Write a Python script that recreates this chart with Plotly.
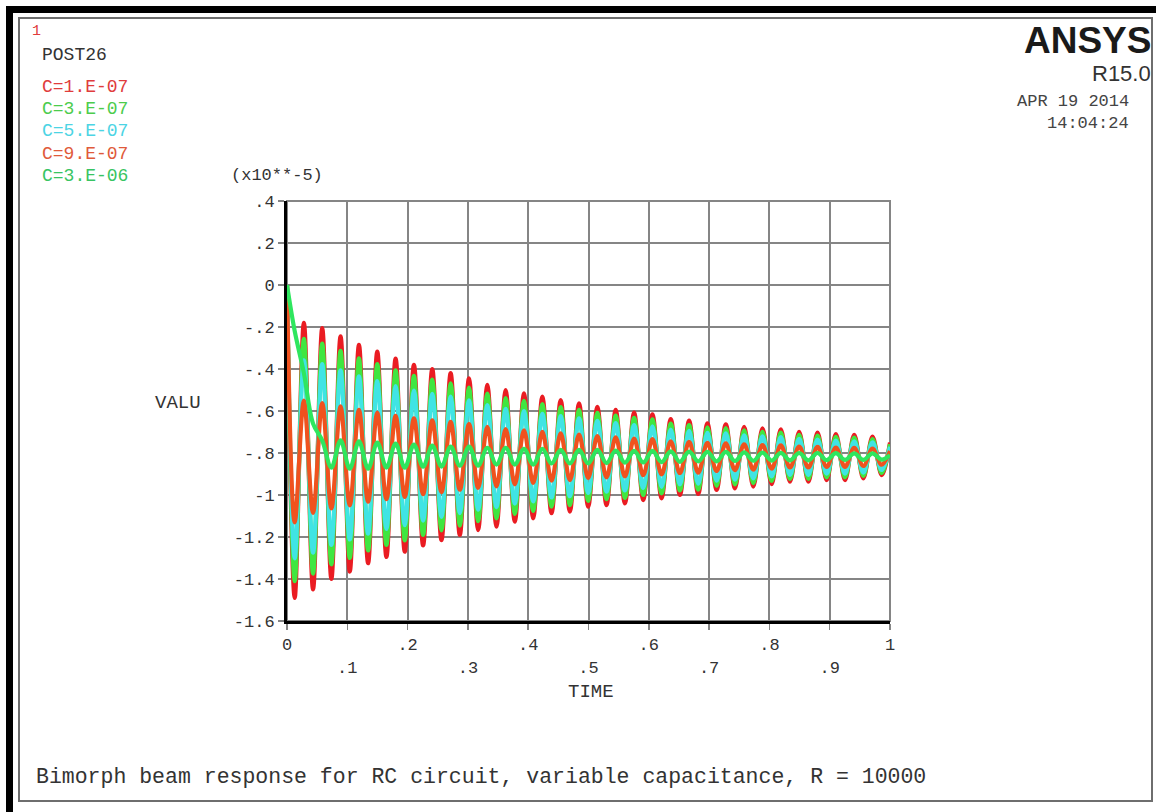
import plotly.graph_objects as go

# ---------------- data (units x10**-5) ----------------
series_names = ["C=1.E-07", "C=3.E-07", "C=5.E-07", "C=9.E-07", "C=3.E-06"]

trough_times = [0.0128, 0.0432, 0.0736, 0.1041, 0.1345, 0.1649, 0.1953, 0.2257, 0.2562, 0.2866,
                0.3170, 0.3474, 0.3778, 0.4083, 0.4387, 0.4691, 0.4995, 0.5299, 0.5604, 0.5908,
                0.6212, 0.6516, 0.6820, 0.7125, 0.7429, 0.7733, 0.8037, 0.8341, 0.8646, 0.8950,
                0.9254, 0.9558, 0.9862]
peak_times = [0.0280, 0.0584, 0.0888, 0.1193, 0.1497, 0.1801, 0.2105, 0.2409, 0.2714, 0.3018,
              0.3322, 0.3626, 0.3930, 0.4235, 0.4539, 0.4843, 0.5147, 0.5451, 0.5756, 0.6060,
              0.6364, 0.6668, 0.6972, 0.7277, 0.7581, 0.7885, 0.8189, 0.8493, 0.8798, 0.9102,
              0.9406, 0.9710]
start_time = 0.0
end_time = 1.0

c1e7_troughs = [-1.49, -1.45, -1.40, -1.365, -1.325, -1.295, -1.27, -1.24, -1.215, -1.19, -1.167,
                -1.151, -1.127, -1.111, -1.087, -1.079, -1.056, -1.048, -1.04, -1.024, -1.016,
                -1.0, -0.995, -0.976, -0.968, -0.96, -0.948, -0.937, -0.937, -0.929, -0.929,
                -0.921, -0.905]
c1e7_peaks = [-0.18, -0.205, -0.245, -0.285, -0.317, -0.35, -0.38, -0.40, -0.42, -0.444, -0.476,
              -0.50, -0.516, -0.532, -0.548, -0.563, -0.58, -0.595, -0.608, -0.616, -0.638,
              -0.646, -0.659, -0.663, -0.675, -0.683, -0.687, -0.699, -0.703, -0.71, -0.714, -0.722]
c1e7_start, c1e7_end = 0.0, -0.75

c3e7_troughs = [-1.41, -1.374, -1.33, -1.30, -1.264, -1.238, -1.216, -1.19, -1.168, -1.146, -1.125,
                -1.111, -1.09, -1.076, -1.055, -1.048, -1.028, -1.02, -1.014, -1.0, -0.992,
                -0.978, -0.974, -0.957, -0.95, -0.943, -0.933, -0.923, -0.923, -0.916, -0.916,
                -0.909, -0.895]
c3e7_peaks = [-0.257, -0.279, -0.314, -0.349, -0.377, -0.406, -0.433, -0.45, -0.468, -0.489, -0.517,
              -0.538, -0.552, -0.567, -0.581, -0.594, -0.609, -0.622, -0.633, -0.64, -0.66,
              -0.667, -0.678, -0.682, -0.692, -0.699, -0.703, -0.714, -0.717, -0.723, -0.727, -0.734]
c3e7_start, c3e7_end = 0.0, -0.758

c5e7_troughs = [-1.302, -1.274, -1.238, -1.212, -1.184, -1.162, -1.144, -1.122, -1.104, -1.086,
                -1.07, -1.058, -1.041, -1.03, -1.012, -1.006, -0.99, -0.984, -0.978, -0.967,
                -0.961, -0.95, -0.946, -0.932, -0.927, -0.921, -0.912, -0.904, -0.904, -0.898,
                -0.898, -0.893, -0.881]
c5e7_peaks = [-0.359, -0.377, -0.406, -0.435, -0.458, -0.482, -0.503, -0.518, -0.532, -0.549,
              -0.572, -0.59, -0.601, -0.613, -0.624, -0.635, -0.647, -0.658, -0.667, -0.673,
              -0.689, -0.695, -0.704, -0.707, -0.716, -0.721, -0.724, -0.733, -0.736, -0.741,
              -0.744, -0.749]
c5e7_start, c5e7_end = 0.0, -0.77

c9e7_troughs = [-1.13, -1.085, -1.064, -1.049, -1.032, -1.02, -1.009, -0.996, -0.986, -0.975,
                -0.966, -0.959, -0.949, -0.942, -0.932, -0.929, -0.919, -0.916, -0.912, -0.906,
                -0.902, -0.896, -0.894, -0.886, -0.882, -0.879, -0.874, -0.869, -0.869, -0.866,
                -0.866, -0.862, -0.856]
c9e7_peaks = [-0.551, -0.562, -0.578, -0.595, -0.609, -0.623, -0.635, -0.644, -0.652, -0.662,
              -0.676, -0.686, -0.692, -0.699, -0.706, -0.712, -0.719, -0.725, -0.731, -0.734,
              -0.744, -0.747, -0.752, -0.754, -0.759, -0.762, -0.764, -0.769, -0.771, -0.774,
              -0.775, -0.779]
c9e7_start, c9e7_end = 0.0, -0.79

c3e6_troughs = [-0.22, -0.66, -0.87, -0.875, -0.875, -0.87, -0.87, -0.865, -0.865, -0.86, -0.86,
                -0.855, -0.855, -0.855, -0.85, -0.85, -0.85, -0.848, -0.846, -0.845, -0.843,
                -0.842, -0.84, -0.84, -0.838, -0.837, -0.836, -0.835, -0.835, -0.834, -0.833,
                -0.833, -0.832]
c3e6_peaks = [-0.42, -0.74, -0.74, -0.745, -0.75, -0.755, -0.76, -0.765, -0.77, -0.77, -0.775,
              -0.775, -0.78, -0.78, -0.785, -0.785, -0.785, -0.788, -0.79, -0.79, -0.792, -0.793,
              -0.795, -0.795, -0.797, -0.798, -0.799, -0.8, -0.8, -0.801, -0.802, -0.802]
c3e6_start, c3e6_end = 0.0, -0.81

y_tickvals = [-1.6, -1.4, -1.2, -1.0, -0.8, -0.6, -0.4, -0.2, 0.0, 0.2, 0.4]
y_ticktext = ["-1.6", "-1.4", "-1.2", "-1", "-.8", "-.6", "-.4", "-.2", "0", ".2", ".4"]
x_tickvals = [0, 0.1, 0.2, 0.3, 0.4, 0.5, 0.6, 0.7, 0.8, 0.9, 1.0]
x_ticktext = ["0", "<br>.1", ".2", "<br>.3", ".4", "<br>.5", ".6", "<br>.7", ".8", "<br>.9", "1"]

# ---------------- styling ----------------
line_colors = ["#ea1c22", "#40e640", "#40e4e4", "#f0521e", "#2ee65e"]
label_colors = ["#e03c3c", "#4ccc4c", "#4cd4e4", "#e05a3a", "#38c462"]
MONO = "Liberation Mono, DejaVu Sans Mono, monospace"
SANS = "Liberation Sans, Arial, sans-serif"

W, H = 1156, 812
L, R, T, B = 287, 890, 201, 621   # plot area in pixels


def pxx(x):
    return (x - L) / (R - L)


def pxy(y):
    return (B - y) / (B - T)


def build(start, troughs, peaks, end):
    out = [start]
    for i, tv in enumerate(troughs):
        out.append(tv)
        if i < len(peaks):
            out.append(peaks[i])
    out.append(end)
    return out


times = build(start_time, trough_times, peak_times, end_time)
all_series = [
    build(c1e7_start, c1e7_troughs, c1e7_peaks, c1e7_end),
    build(c3e7_start, c3e7_troughs, c3e7_peaks, c3e7_end),
    build(c5e7_start, c5e7_troughs, c5e7_peaks, c5e7_end),
    build(c9e7_start, c9e7_troughs, c9e7_peaks, c9e7_end),
    build(c3e6_start, c3e6_troughs, c3e6_peaks, c3e6_end),
]

fig = go.Figure()
for name, ys, col in zip(series_names, all_series, line_colors):
    fig.add_trace(go.Scatter(x=times, y=ys, mode="lines", name=name,
                             line=dict(color=col, width=4.2, shape="spline", smoothing=1.0),
                             hoverinfo="skip"))

axis_common = dict(showgrid=True, gridcolor="#858585", gridwidth=2, zeroline=False,
                   showline=True, linecolor="black", linewidth=3,
                   ticks="outside", ticklen=6, tickwidth=1.5, tickcolor="#858585",
                   tickfont=dict(family=MONO, size=17, color="#333333"))

fig.update_layout(
    width=W, height=H, autosize=False,
    margin=dict(l=L, r=W - R, t=T, b=H - B, pad=0),
    paper_bgcolor="white", plot_bgcolor="white",
    showlegend=False,
    xaxis=dict(range=[0, 1], tickmode="array", tickvals=x_tickvals, ticktext=x_ticktext,
               **axis_common),
    yaxis=dict(range=[-1.6, 0.4], tickmode="array", tickvals=y_tickvals, ticktext=y_ticktext,
               **axis_common),
)

shapes = []
# plot-area top/right border (gray)
shapes.append(dict(type="rect", xref="paper", yref="paper", x0=0, x1=1, y0=0, y1=1,
                   line=dict(color="#858585", width=2), layer="below"))
# window frame: thick black top & left bands, thin gray inner frame
shapes.append(dict(type="rect", xref="paper", yref="paper",
                   x0=pxx(6), x1=pxx(W + 5), y0=pxy(13), y1=pxy(6),
                   fillcolor="black", line=dict(width=0), layer="above"))
shapes.append(dict(type="rect", xref="paper", yref="paper",
                   x0=pxx(6), x1=pxx(13), y0=pxy(H + 5), y1=pxy(6),
                   fillcolor="black", line=dict(width=0), layer="above"))
shapes.append(dict(type="rect", xref="paper", yref="paper",
                   x0=pxx(19), x1=pxx(1152), y0=pxy(801), y1=pxy(18),
                   fillcolor="rgba(0,0,0,0)", line=dict(color="#6e6e6e", width=2), layer="below"))
fig.update_layout(shapes=shapes)


def ann(text, x, y, size, color="#222222", family=MONO, xanchor="left", bold=False):
    if bold:
        text = "<b>" + text + "</b>"
    fig.add_annotation(text=text, x=pxx(x), y=pxy(y), xref="paper", yref="paper",
                       showarrow=False, xanchor=xanchor, yanchor="middle",
                       font=dict(family=family, size=size, color=color))


ann("1", 30, 31, 15, color="#e03c3c")
ann("POST26", 40, 55, 18, color="#333333")
legend_y = [87, 109, 131, 154, 176]
for name, col, yy in zip(series_names, label_colors, legend_y):
    ann(name, 40, yy, 18, color=col)

ann("(x10**-5)", 229, 175, 17, color="#333333")
ann("VALU", 153, 403, 19, color="#333333")
ann("TIME", 591, 692, 19, color="#333333", xanchor="center")

ann("ANSYS", 1153, 40, 37, color="#1a1a1a", family=SANS, xanchor="right", bold=True)
ann("R15.0", 1153, 73, 22, color="#333333", family=SANS, xanchor="right")
ann("APR 19 2014", 1131, 102, 17, color="#444444", xanchor="right")
ann("14:04:24", 1131, 123, 17, color="#444444", xanchor="right")

ann("Bimorph beam response for RC circuit, variable capacitance, R = 10000",
    34, 777, 21.5, color="#333333")

fig.write_html("out.html",
               config={"displayModeBar": False, "staticPlot": True},
               post_script="document.body.style.margin='0';document.body.style.overflow='hidden';")
